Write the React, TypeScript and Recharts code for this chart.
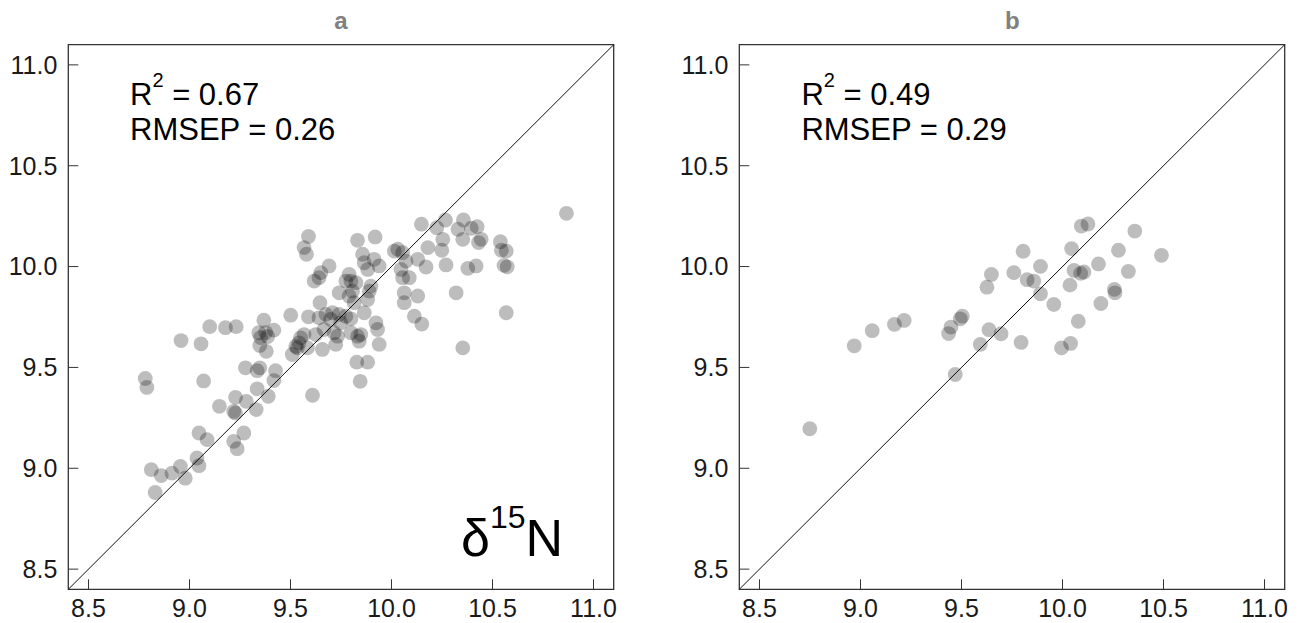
import React from 'react';
import {
  ScatterChart,
  Scatter,
  XAxis,
  YAxis,
  ReferenceLine,
  ReferenceArea,
} from 'recharts';

// panel a: measured (x) vs predicted (y)
const measuredA = [
  9.368, 9.418, 9.343, 9.377, 9.387, 9.352, 9.348, 9.38, 9.1, 9.178,
  9.231, 8.958, 9.057, 8.781, 8.789, 9.07, 9.277, 9.335, 9.348, 9.426,
  9.418, 9.335, 9.39, 9.228, 9.281, 9.148, 9.219, 9.228, 9.33, 9.269,
  9.219, 9.236, 9.047, 9.087, 9.037, 9.047, 8.955, 8.979, 8.913, 8.86,
  8.811, 8.83, 10.148, 9.589, 9.567, 9.579, 9.832, 9.919, 10.014, 10.031,
  10.055, 10.13, 10.072, 10.047, 10.055, 10.088, 10.063, 10.063, 10.13, 10.113,
  10.15, 9.857, 9.914, 9.939, 9.882, 9.865, 9.691, 9.65, 9.641, 9.617,
  9.79, 9.799, 9.774, 9.824, 9.898, 9.89, 9.741, 9.807, 9.79, 9.815,
  9.882, 9.646, 9.501, 9.589, 9.641, 9.675, 9.708, 9.741, 9.699, 9.774,
  9.799, 9.865, 9.749, 9.666, 9.625, 9.567, 9.55, 9.542, 9.526, 9.534,
  9.509, 9.584, 9.658, 9.716, 9.733, 9.724, 9.799, 9.832, 9.848, 9.84,
  9.923, 9.931, 9.939, 9.828, 9.882, 9.845, 9.609, 10.866, 10.267, 10.224,
  10.356, 10.329, 10.395, 10.424, 10.353, 10.444, 10.431, 10.254, 10.249, 10.18,
  10.539, 10.544, 10.568, 10.27, 10.378, 10.419, 10.557, 10.573, 10.171, 10.32,
  10.568, 10.353,
];
const predictedA = [
  9.734, 9.685, 9.672, 9.673, 9.653, 9.648, 9.609, 9.58, 9.702, 9.697,
  9.702, 9.633, 9.617, 9.445, 9.401, 9.433, 9.498, 9.484, 9.498, 9.484,
  9.435, 9.394, 9.357, 9.352, 9.332, 9.307, 9.282, 9.274, 9.291, 9.175,
  9.133, 9.097, 9.175, 9.142, 9.051, 9.013, 9.009, 8.951, 8.976, 8.964,
  8.993, 8.88, 10.21, 10.149, 10.094, 10.061, 10.13, 10.147, 10.077, 10.086,
  10.069, 10.036, 10.027, 9.986, 9.945, 9.945, 9.87, 9.821, 9.854, 9.754,
  9.715, 10.061, 10.036, 10.003, 9.986, 10.019, 10.003, 9.97, 9.945, 9.928,
  9.961, 9.928, 9.928, 9.92, 9.903, 9.878, 9.87, 9.878, 9.854, 9.821,
  9.837, 9.821, 9.759, 9.751, 9.746, 9.763, 9.771, 9.763, 9.738, 9.754,
  9.741, 9.771, 9.721, 9.688, 9.663, 9.663, 9.647, 9.622, 9.605, 9.597,
  9.564, 9.597, 9.589, 9.672, 9.655, 9.614, 9.672, 9.655, 9.663, 9.63,
  9.721, 9.688, 9.614, 9.526, 9.526, 9.431, 9.362, 10.264, 10.231, 10.193,
  10.231, 10.185, 10.19, 10.198, 10.135, 10.135, 10.119, 10.135, 10.081, 10.094,
  10.123, 10.081, 10.077, 10.008, 9.991, 10.003, 10.006, 9.999, 9.998, 9.87,
  9.771, 9.597,
];

// panel b
const measuredB = [
  8.749, 8.969, 9.058, 9.168, 9.216, 9.436, 9.448, 9.494, 9.504, 9.469,
  9.593, 9.626, 9.648, 9.636, 9.696, 9.795, 9.759, 9.805, 9.825, 9.858,
  9.891, 9.891, 9.957, 9.995, 10.04, 10.037, 10.045, 10.057, 10.09, 10.106,
  10.078, 10.093, 10.126, 10.178, 10.19, 10.257, 10.26, 10.277, 10.326, 10.358,
  10.49,
];
const predictedB = [
  9.196, 9.607, 9.682, 9.713, 9.733, 9.668, 9.7, 9.741, 9.754, 9.465,
  9.614, 9.898, 9.961, 9.687, 9.667, 9.624, 9.97, 10.076, 9.935, 9.928,
  10.001, 9.865, 9.812, 9.597, 9.619, 9.908, 10.089, 9.981, 9.966, 9.973,
  9.729, 10.201, 10.211, 10.013, 9.817, 9.887, 9.87, 10.081, 9.976, 10.176,
  10.056,
];

const axisTicks = [8.5, 9.0, 9.5, 10.0, 10.5, 11.0];
const axisMin = 8.4;
const axisMax = 11.1;

const panelA = { title: 'a', r2: '0.67', rmsep: '0.26' };
const panelB = { title: 'b', r2: '0.49', rmsep: '0.29' };

const FONT = '"Liberation Sans", Arial, Helvetica, sans-serif';
const CHART_W = 640;
const CHART_H = 623;
const PANEL_SHIFT = 671.4;

const toRows = (xs: number[], ys: number[]) => xs.map((x, i) => ({ x, y: ys[i] }));

const Dot = (p: any) => (
  <circle cx={p.cx} cy={p.cy} r={7.4} fill="#000" fillOpacity={0.26} />
);

const Panel: React.FC<{ rows: { x: number; y: number }[]; left: number }> = ({ rows, left }) => {
  const tickStyle = { fill: '#1a1a1a', fontSize: 25, fontFamily: FONT };
  return (
    <div style={{ position: 'absolute', left, top: 0, width: CHART_W, height: CHART_H }}>
      <ScatterChart
        width={CHART_W}
        height={CHART_H}
        margin={{ top: 44.7, right: 26.3, bottom: 3.7, left: 8.3 }}
      >
        <XAxis
          type="number"
          dataKey="x"
          domain={[axisMin, axisMax]}
          ticks={axisTicks}
          allowDataOverflow
          height={30}
          axisLine={false}
          tickLine={{ stroke: '#333' }}
          tickSize={-10}
          tickMargin={20}
          tick={tickStyle}
          tickFormatter={(v: number) => v.toFixed(1)}
          interval={0}
        />
        <YAxis
          type="number"
          dataKey="y"
          domain={[axisMin, axisMax]}
          ticks={axisTicks}
          allowDataOverflow
          width={60}
          axisLine={false}
          tickLine={{ stroke: '#333' }}
          tickSize={-10}
          tickMargin={21}
          tick={tickStyle}
          tickFormatter={(v: number) => v.toFixed(1)}
          interval={0}
        />
        <ReferenceArea
          x1={axisMin}
          x2={axisMax}
          y1={axisMin}
          y2={axisMax}
          fill="none"
          fillOpacity={0}
          stroke="#333"
          strokeWidth={1.3}
        />
        <ReferenceLine
          segment={[
            { x: axisMin, y: axisMin },
            { x: axisMax, y: axisMax },
          ]}
          stroke="#111"
          strokeWidth={1}
        />
        <Scatter data={rows} shape={Dot} isAnimationActive={false} />
      </ScatterChart>
    </div>
  );
};

const Labels: React.FC<{ info: { title: string; r2: string; rmsep: string }; dx: number }> = ({ info, dx }) => (
  <g fontFamily={FONT}>
    <text x={341 + dx} y={29} textAnchor="middle" fontSize={24} fontWeight="bold" fill="#808080">
      {info.title}
    </text>
    <text x={130 + dx} y={105} fontSize={31} fill="#000">
      R
      <tspan fontSize={20} dy={-18}>2</tspan>
      <tspan fontSize={31} dy={18}>{' = ' + info.r2}</tspan>
    </text>
    <text x={130 + dx} y={140} fontSize={31} fill="#000">
      {'RMSEP = ' + info.rmsep}
    </text>
  </g>
);

export default function App() {
  return (
    <div style={{ position: 'absolute', left: 0, top: 0, width: 1306, height: 623, background: '#fff' }}>
      <Panel rows={toRows(measuredA, predictedA)} left={0} />
      <Panel rows={toRows(measuredB, predictedB)} left={PANEL_SHIFT} />
      <svg
        width={1306}
        height={623}
        style={{ position: 'absolute', left: 0, top: 0, pointerEvents: 'none' }}
      >
        <Labels info={panelA} dx={0} />
        <Labels info={panelB} dx={PANEL_SHIFT} />
        <text x={461} y={556} fontFamily={FONT} fontSize={52} fill="#000">
          δ
          <tspan fontSize={32} dy={-28}>15</tspan>
          <tspan fontSize={52} dy={28}>N</tspan>
        </text>
      </svg>
    </div>
  );
}
